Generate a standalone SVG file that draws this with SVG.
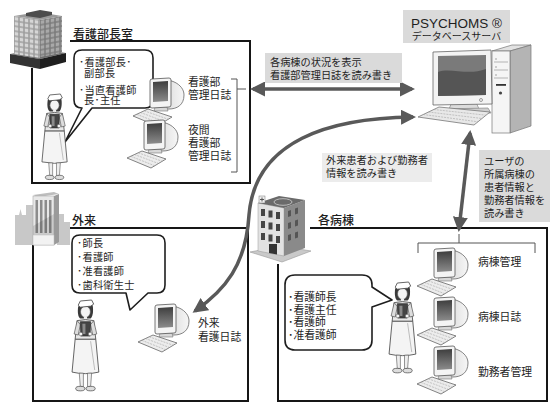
<svg xmlns="http://www.w3.org/2000/svg" width="551" height="403" viewBox="0 0 551 403">
<defs>
<style>
  .frame{fill:none;stroke:#161616;stroke-width:2}
  .t{font-family:"Noto Sans CJK JP","Noto Sans CJK SC",sans-serif;fill:#1e1e1e}
  .hd{font-size:12px;font-weight:500}
  .s{font-size:10.2px}
  .m{font-size:10.8px}
  .lbl{fill:#dadada}
  .bub{fill:#fff;stroke:#1e1e1e;stroke-width:1.6;stroke-linejoin:round}
  .link{fill:none;stroke:#595959;stroke-width:3.5}
  .brk{fill:none;stroke:#555;stroke-width:1}
</style>
<linearGradient id="scr" x1="0" y1="0" x2="0" y2="1">
  <stop offset="0" stop-color="#3e3e3e"/><stop offset="1" stop-color="#8c8c8c"/>
</linearGradient>
<linearGradient id="shell" x1="0" y1="0" x2="1" y2="0">
  <stop offset="0" stop-color="#d2d2d2"/><stop offset="1" stop-color="#f6f6f6"/>
</linearGradient>
<pattern id="win" width="5" height="5" patternUnits="userSpaceOnUse">
  <rect width="5" height="5" fill="#9c9c9c"/><rect x=".7" y=".7" width="3.6" height="3.6" fill="#d6d6d6"/>
</pattern>
<pattern id="win2" width="5" height="5" patternUnits="userSpaceOnUse">
  <rect width="5" height="5" fill="#7a7a7a"/><rect x=".7" y=".7" width="3.6" height="3.6" fill="#a9a9a9"/>
</pattern>
<marker id="ah" markerUnits="userSpaceOnUse" markerWidth="15" markerHeight="15" refX="12" refY="7.5" orient="auto-start-reverse">
  <path d="M0,0 L15,7.5 L0,15 Z" fill="#595959"/>
</marker>

<!-- CRT workstation with keyboard -->
<g id="crt">
  <path d="M24 5 C36 1 51 8 51 19 C51 29 44 33 36 33 L26 33 Z" fill="url(#shell)" stroke="#666" stroke-width=".8"/>
  <path d="M22 31 L34 31 L35 35 L21 35 Z" fill="#d8d8d8" stroke="#777" stroke-width=".6"/>
  <path d="M19 3 L36 2 Q38 2 38 4 L38 29 Q38 31 36 31 L19 32 Q17 32 17 30 L17 5 Q17 3 19 3 Z" fill="#f4f4f4" stroke="#555" stroke-width=".8"/>
  <path d="M20 6 L35 5 L35 25 L20 26 Z" fill="url(#scr)"/>
  <path d="M0 40 L15 33 L39 41 L24 50 Z" fill="#ececec" stroke="#666" stroke-width=".8"/>
  <path d="M3.8 38.3 L27.8 47.8 M7.5 36.5 L31.5 45.5 M11.3 34.8 L35.3 43.3" stroke="#a5a5a5" stroke-width=".6" stroke-dasharray="2 1"/>
</g>

<!-- nurse standing with a clipboard -->
<g id="nurse">
  <path d="M8 6 C7 12 8 17 10 18 L20 18 C22 16 23 11 22 5 Z" fill="#3a3a3a"/>
  <ellipse cx="15" cy="11.5" rx="4.8" ry="5.5" fill="#f4f4f4" stroke="#555" stroke-width=".6"/>
  <path d="M8 5 L10 1 L21 0 L23 4 L20 6 L10 7 Z" fill="#fff" stroke="#444" stroke-width=".8"/>
  <rect x="13.5" y="16" width="3" height="4" fill="#eee"/>
  <path d="M5 38 L25 38 L28 70 Q15 73 2 70 Z" fill="#f4f4f4" stroke="#444" stroke-width=".8"/>
  <path d="M20 40 L24 68" stroke="#999" stroke-width=".6"/>
  <path d="M7 20 Q15 18 23 20 L25 38 L5 38 Z" fill="#e8e8e8" stroke="#444" stroke-width=".8"/>
  <path d="M7 20 L4 33 L8 34 L10 24 Z" fill="#ddd" stroke="#444" stroke-width=".6"/>
  <path d="M23 20 L26 33 L22 34 L20 24 Z" fill="#ddd" stroke="#444" stroke-width=".6"/>
  <path d="M10 21 L20 21 L19.5 35 L10.5 35 Z" fill="#444" stroke="#222" stroke-width=".6"/>
  <path d="M12 23 L15 23 L15 33 L12.3 33 Z" fill="#8a8a8a"/>
  <circle cx="10.5" cy="33" r="1.8" fill="#f4f4f4" stroke="#555" stroke-width=".5"/>
  <circle cx="19.5" cy="33" r="1.8" fill="#f4f4f4" stroke="#555" stroke-width=".5"/>
  <path d="M9 71 L10 84 L13 84 L13 71 Z M17 71 L17 84 L20 84 L21 71 Z" fill="#eee" stroke="#555" stroke-width=".6"/>
  <ellipse cx="10" cy="86" rx="4.5" ry="2.2" fill="#ddd" stroke="#444" stroke-width=".7"/>
  <ellipse cx="20" cy="86" rx="4.5" ry="2.2" fill="#ddd" stroke="#444" stroke-width=".7"/>
</g>
</defs>

<rect width="551" height="403" fill="#fff"/>

<!-- nursing director's office -->
<g id="office">
  <path class="frame" d="M70 41 H250 V183 H32 V68"/>
  <g id="office-icon">
    <path d="M10 54 L38 49 L66 53 L40 59 Z" fill="#6e6e6e"/>
    <path d="M10 54 L40 59 L40 69 L10 63 Z" fill="#333"/>
    <path d="M40 59 L66 53 L66 62 L40 69 Z" fill="#1f1f1f"/>
    <g transform="translate(14,16) skewY(8.75)"><rect width="26" height="38" fill="url(#win)"/></g>
    <g transform="translate(40,20) skewY(-10.3)"><rect width="22" height="37" fill="url(#win2)"/></g>
    <path d="M14 16 L38 12 L62 16 L40 20 Z" fill="#9a9a9a"/>
    <path d="M26 13 L40 10 L52 12 L52 15 L40 18 L26 16 Z" fill="#4d4d4d"/>
  </g>
  <text class="t hd" x="73" y="39">看護部長室</text>
  <path class="bub" d="M82 50 H145 Q153 50 153 58 V100 Q153 108 145 108 H92 L65 142 L82 108 Q74 108 74 100 V58 Q74 50 82 50 Z"/>
  <text class="t s" x="79" y="66" letter-spacing=".3"><tspan>･看護部長･</tspan><tspan x="84" y="77">副部長</tspan><tspan x="79" y="93.5">･当直看護師</tspan><tspan x="84" y="104">長･主任</tspan></text>
  <use href="#nurse" transform="translate(40,94) scale(0.97)"/>
  <use href="#crt" x="133" y="76"/>
  <use href="#crt" x="127" y="118"/>
  <text class="t m" x="188" y="86"><tspan>看護部</tspan><tspan x="188" y="98.5">管理日誌</tspan></text>
  <text class="t m" x="188" y="134"><tspan>夜間</tspan><tspan x="188" y="147">看護部</tspan><tspan x="188" y="160">管理日誌</tspan></text>
  <path class="brk" d="M231 79 H237 V172 H231 M237 89 H246"/>
</g>

<!-- outpatient department -->
<g id="outpatient">
  <path class="frame" d="M70 228 H248 V401 H33 V242"/>
  <g id="outpatient-icon">
    <path d="M15 245 V215 H19 L20.5 209 L22 215 H26 V205 H33 V245 Z" fill="#c8c8c8"/>
    <path d="M57 245 V214 H64 V222 H70 V245 Z" fill="#c8c8c8"/>
    <path d="M33 195 L54 192 L59 194 L38 197 Z" fill="#bdbdbd"/>
    <rect x="33" y="196" width="21" height="49" fill="#e8e8e8" stroke="#aaa" stroke-width=".6"/>
    <path d="M54 196 L59 194 L59 242 L54 245 Z" fill="#9a9a9a"/>
    <path d="M35.5 200 h2.5 v33 h-2.5 Z M40 200 h2.5 v33 h-2.5 Z M44.5 200 h2.5 v33 h-2.5 Z M49 200 h2.5 v33 h-2.5 Z" fill="#8c8c8c"/>
    <path d="M33 226 L54 214 L54 235 L33 235 Z" fill="#000" opacity=".12"/>
    <rect x="33" y="235" width="21" height="10" fill="#f2f2f2" stroke="#bbb" stroke-width=".5"/>
  </g>
  <text class="t hd" x="72" y="225">外来</text>
  <path class="bub" d="M80 235 H157 Q165 235 165 243 V285 Q165 293 157 293 H148 L130 310 L126 293 H80 Q72 293 72 285 V243 Q72 235 80 235 Z"/>
  <text class="t s" x="77" y="247" letter-spacing=".3"><tspan>･師長</tspan><tspan x="77" y="261">･看護師</tspan><tspan x="77" y="275">･准看護師</tspan><tspan x="77" y="289">･歯科衛生士</tspan></text>
  <use href="#nurse" transform="translate(70,300) scale(1.03)"/>
  <use href="#crt" x="138" y="302"/>
  <text class="t m" x="198" y="327"><tspan>外来</tspan><tspan x="198" y="341">看護日誌</tspan></text>
</g>

<!-- wards -->
<g id="wards">
  <path class="frame" d="M310 228 H547 V401 H278 V264"/>
  <g id="ward-icon">
    <path d="M250 252 L281 246 L311 251 L282 262 Z" fill="#c9c9c9" stroke="#999" stroke-width=".6"/>
    <path d="M258 203 L284 208 L284 256 L258 251 Z" fill="#e2e2e2" stroke="#999" stroke-width=".5"/>
    <path d="M284 208 L305 200 L305 248 L284 256 Z" fill="#8a8a8a"/>
    <path d="M258 203 L279 196 L305 200 L284 208 Z" fill="#6a6a6a"/>
    <ellipse cx="283" cy="202" rx="9" ry="3.3" fill="none" stroke="#d0d0d0" stroke-width=".8"/>
    <rect x="259" y="196" width="6" height="7" fill="#eee" stroke="#777" stroke-width=".5"/>
    <path d="M262 197.5 V201.5 M260 199.5 H264" stroke="#555" stroke-width="1"/>
    <path d="M261 209 h4 v7 h-4 Z M268.5 210.5 h4 v7 h-4 Z M276 212 h4 v7 h-4 Z M261 221 h4 v7 h-4 Z M268.5 222.5 h4 v7 h-4 Z M276 224 h4 v7 h-4 Z M261 233 h4 v7 h-4 Z M268.5 234.5 h4 v7 h-4 Z M276 236 h4 v7 h-4 Z" fill="#454545"/>
    <path d="M288 211 l3 -1 v6 l-3 1 Z M295 208.5 l3 -1 v6 l-3 1 Z M288 223 l3 -1 v6 l-3 1 Z M295 220.5 l3 -1 v6 l-3 1 Z M288 235 l3 -1 v6 l-3 1 Z M295 232.5 l3 -1 v6 l-3 1 Z" fill="#555"/>
    <path d="M269 244 h8 v10.5 l-8 -1.5 Z" fill="#333"/>
  </g>
  <text class="t hd" x="318" y="225">各病棟</text>
  <path class="bub" d="M295 275 H362 Q372 275 372 285 V287 L392 300 L372 307 V340 Q372 350 362 350 H295 Q285 350 285 340 V285 Q285 275 295 275 Z"/>
  <text class="t m" x="288" y="301"><tspan>･看護師長</tspan><tspan x="288" y="313.5">･看護主任</tspan><tspan x="288" y="326">･看護師</tspan><tspan x="288" y="338.5">･准看護師</tspan></text>
  <use href="#nurse" transform="translate(387,282) scale(1.03)"/>
  <use href="#crt" x="417" y="246"/>
  <use href="#crt" x="417" y="295"/>
  <use href="#crt" x="417" y="344"/>
  <text class="t m" x="478" y="266">病棟管理</text>
  <text class="t m" x="478" y="321">病棟日誌</text>
  <text class="t m" x="478" y="376">勤務者管理</text>
  <path class="brk" d="M418 253 V243 H535 V253 M459 243 V234"/>
</g>

<!-- database server -->
<g id="server">
  <rect class="lbl" x="403" y="10" width="107" height="33"/>
  <text x="456.5" y="28" text-anchor="middle" fill="#1e1e1e"><tspan font-family="Liberation Sans, Arial, sans-serif" font-size="13.5">PSYCHOMS ®</tspan><tspan class="t" x="456.5" y="39.5" font-size="10">データベースサーバ</tspan></text>
  <path d="M492 51 L512 45 L531 45 L510 51 Z" fill="#e2e2e2" stroke="#777" stroke-width=".7"/>
  <path d="M510 51 L531 45 L531 126 L510 133 Z" fill="#b4b4b4" stroke="#777" stroke-width=".7"/>
  <rect x="492" y="51" width="18" height="82" fill="#f5f5f5" stroke="#777" stroke-width=".7"/>
  <path d="M494 62 H508 M494 70 H508 M494 78 H508" stroke="#999" stroke-width=".7"/>
  <circle cx="496" cy="59" r=".8" fill="#999"/><circle cx="496" cy="67" r=".8" fill="#999"/><circle cx="496" cy="75" r=".8" fill="#999"/>
  <rect x="496" y="84" width="10" height="1.8" fill="#333"/>
  <circle cx="500.5" cy="93" r="1.6" fill="#444"/>
  <path d="M452 102 L476 102 L479 109 L449 109 Z" fill="#dcdcdc" stroke="#888" stroke-width=".7"/>
  <path d="M440 109 L488 108 L491 113 L443 115 Z" fill="#cfcfcf" stroke="#888" stroke-width=".7"/>
  <path d="M433 52 L491 50 L492 104 L433 105 Z" fill="#f3f3f3" stroke="#666" stroke-width=".8"/>
  <path d="M438 56 L486 55 L486 95 L438 96 Z" fill="#7a7a7a"/>
  <path d="M438 72 C450 67 468 76 486 69 L486 95 L438 96 Z" fill="#555"/>
  <circle cx="481" cy="100" r="1.5" fill="none" stroke="#777" stroke-width=".7"/>
  <path d="M418 117 L439 107 L490 112 L474 125 Z" fill="#e8e8e8" stroke="#777" stroke-width=".8"/>
  <path d="M423.3 114.5 L478 121.8 M428.5 112 L482 118.5 M433.8 109.5 L486 115.2" stroke="#a5a5a5" stroke-width=".6" stroke-dasharray="2 1"/>
</g>

<!-- read/write connections -->
<g id="links">
  <path class="link" d="M253 89 H412" marker-start="url(#ah)" marker-end="url(#ah)"/>
  <path class="link" d="M413 117 C330 118 255 140 249 215 C246 265 225 290 195 311" marker-start="url(#ah)" marker-end="url(#ah)"/>
  <path class="link" d="M470 133 L459 229" marker-start="url(#ah)" marker-end="url(#ah)"/>
</g>

<!-- connection captions -->
<g id="link-labels">
  <rect class="lbl" x="265" y="53" width="137" height="30"/>
  <text class="t s" x="270" y="66"><tspan>各病棟の状況を表示</tspan><tspan x="270" y="78.5">看護部管理日誌を読み書き</tspan></text>
  <rect x="322" y="153" width="110" height="29" fill="#ececec"/>
  <text class="t s" x="326" y="164"><tspan>外来患者および勤務者</tspan><tspan x="326" y="177">情報を読み書き</tspan></text>
  <rect class="lbl" x="479" y="150" width="71" height="72"/>
  <text class="t s" x="484" y="165"><tspan>ユーザの</tspan><tspan x="484" y="178">所属病棟の</tspan><tspan x="484" y="191">患者情報と</tspan><tspan x="484" y="204">勤務者情報を</tspan><tspan x="484" y="217">読み書き</tspan></text>
</g>
</svg>
